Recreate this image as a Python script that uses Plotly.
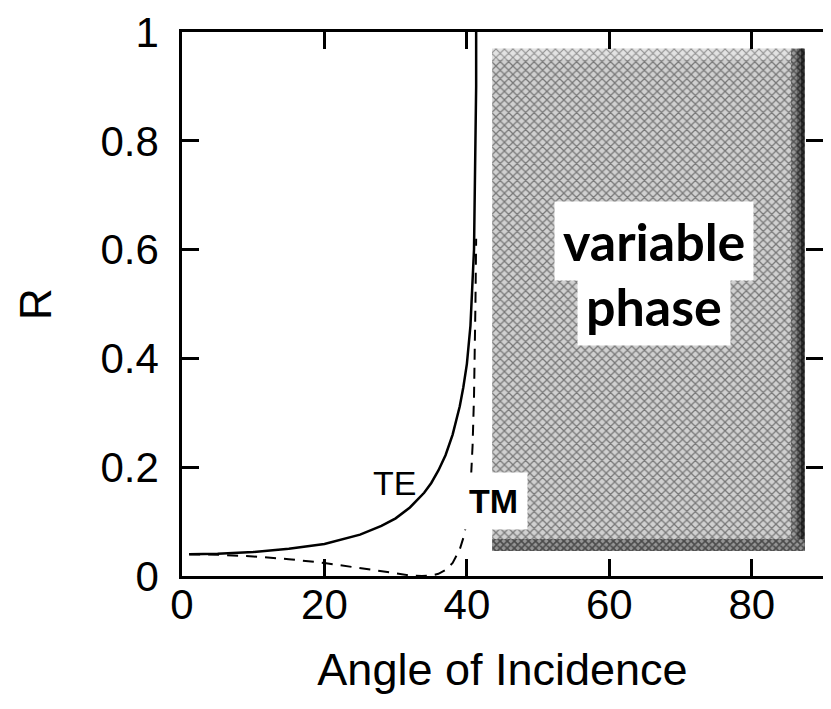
import plotly.graph_objects as go

# Angle of incidence (degrees) and reflectance
te_angle = [1, 5, 10, 15, 20, 25, 28, 30, 32, 34, 35, 36, 37, 38, 39, 39.5, 40, 40.5, 41.0, 41.2, 41.3, 41.3]
te_r     = [0.040, 0.041, 0.044, 0.050, 0.059, 0.076, 0.092, 0.106, 0.126, 0.153, 0.171, 0.194, 0.222, 0.260, 0.312, 0.347, 0.39, 0.46, 0.60, 0.75, 0.90, 1.0]

tm_angle = [1, 5, 10, 15, 20, 25, 28, 30, 32, 33.7, 35, 36, 37, 38, 39, 39.5, 40, 40.5, 40.8, 41.0, 41.2, 41.3]
tm_r     = [0.040, 0.039, 0.036, 0.031, 0.024, 0.015, 0.009, 0.005, 0.001, 0.0, 0.001, 0.004, 0.011, 0.024, 0.049, 0.070, 0.100, 0.160, 0.240, 0.330, 0.500, 0.620]

# variable-phase region (total internal reflection zone)
region_x = [43.55, 87.4]
region_y = [0.046, 0.969]

x_ticks = [0, 20, 40, 60, 80]
y_ticks = [0, 0.2, 0.4, 0.6, 0.8, 1]
y_ticktext = ["0", "0.2", "0.4", "0.6", "0.8", "1"]

fig = go.Figure()

x0, x1 = region_x
y0, y1 = region_y
# main stippled region
fig.add_trace(go.Scatter(
    x=[x0, x1, x1, x0, x0], y=[y0, y0, y1, y1, y0],
    mode="lines", line=dict(width=0), fill="toself",
    fillcolor="#bdbdbd",
    fillpattern=dict(shape="x", fgcolor="#202020", bgcolor="#d0d0d0", size=6, solidity=0.38),
    hoverinfo="skip", showlegend=False))
# lighter top band
yt = y1 - 0.02
fig.add_trace(go.Scatter(
    x=[x0, x1, x1, x0, x0], y=[yt, yt, y1, y1, yt],
    mode="lines", line=dict(width=0), fill="toself",
    fillcolor="#d4d4d4",
    fillpattern=dict(shape="x", fgcolor="#333333", bgcolor="#e2e2e2", size=6, solidity=0.32),
    hoverinfo="skip", showlegend=False))
# graded darker right edge
for w, bg, fg in [(1.9, "#9a9a9a", "#101010"), (1.1, "#666666", "#000000"), (0.5, "#333333", "#000000")]:
    xr = x1 - w
    fig.add_trace(go.Scatter(
        x=[xr, x1, x1, xr, xr], y=[y0, y0, y1, y1, y0],
        mode="lines", line=dict(width=0), fill="toself",
        fillcolor=bg,
        fillpattern=dict(shape="x", fgcolor=fg, bgcolor=bg, size=5, solidity=0.5),
        hoverinfo="skip", showlegend=False))
# darker bottom strip
yb = y0 + 0.022
fig.add_trace(go.Scatter(
    x=[x0, x1, x1, x0, x0], y=[y0, y0, yb, yb, y0],
    mode="lines", line=dict(width=0), fill="toself",
    fillcolor="#777777",
    fillpattern=dict(shape="x", fgcolor="#000000", bgcolor="#959595", size=5, solidity=0.55),
    hoverinfo="skip", showlegend=False))

fig.add_trace(go.Scatter(x=te_angle, y=te_r, mode="lines",
                         line=dict(color="black", width=2.5), name="TE", showlegend=False))
fig.add_trace(go.Scatter(x=tm_angle, y=tm_r, mode="lines",
                         line=dict(color="black", width=2, dash="11px,8px"), name="TM", showlegend=False))

axis_font = dict(family="Liberation Sans, Arial, sans-serif", size=42, color="black")

fig.update_xaxes(range=[0, 90], tickvals=x_ticks, ticks="inside", ticklen=17, tickwidth=2.5,
                 tickcolor="black", showline=True, linecolor="black", linewidth=2.5, mirror="ticks",
                 showgrid=False, zeroline=False, tickfont=axis_font, ticklabelstandoff=-10,
                 automargin=False,
                 title=dict(text="Angle of Incidence",
                            font=dict(family="Liberation Sans, Arial, sans-serif", size=45, color="black"),
                            standoff=27))
fig.update_yaxes(range=[0, 1], tickvals=y_ticks, ticktext=y_ticktext, ticks="inside", ticklen=17,
                 tickwidth=2.5, tickcolor="black", showline=True, linecolor="black", linewidth=2.5,
                 mirror="ticks", showgrid=False, zeroline=False, tickfont=axis_font, ticklabelstandoff=12,
                 automargin=False,
                 title=dict(text="R", font=dict(family="Liberation Sans, Arial, sans-serif", size=44,
                                                color="black"), standoff=36))

fig.add_annotation(x=29.8, y=0.171, text="TE", showarrow=False,
                   font=dict(family="Liberation Sans, Arial, sans-serif", size=34, color="black"))
fig.add_annotation(x=43.8, y=0.138, text="<b>TM</b>", showarrow=False, bgcolor="white", borderpad=9,
                   font=dict(family="Liberation Sans, Arial, sans-serif", size=34, color="black"))
fig.add_annotation(x=66.3, y=0.615, text="<b>variable</b>", showarrow=False, bgcolor="white", borderpad=8,
                   font=dict(family="Lato, Noto Sans, sans-serif", size=52, color="black"))
fig.add_annotation(x=66.3, y=0.497, text="<b>phase</b>", showarrow=False, bgcolor="white", borderpad=8,
                   font=dict(family="Lato, Noto Sans, sans-serif", size=52, color="black"))

# page body has an 8px margin; size the figure so the plot area lands where the reference has it
fig.update_layout(width=815, height=693, margin=dict(l=174, r=0, t=24, b=125),
                  plot_bgcolor="white", paper_bgcolor="white", showlegend=False)

fig.write_html("out.html")
